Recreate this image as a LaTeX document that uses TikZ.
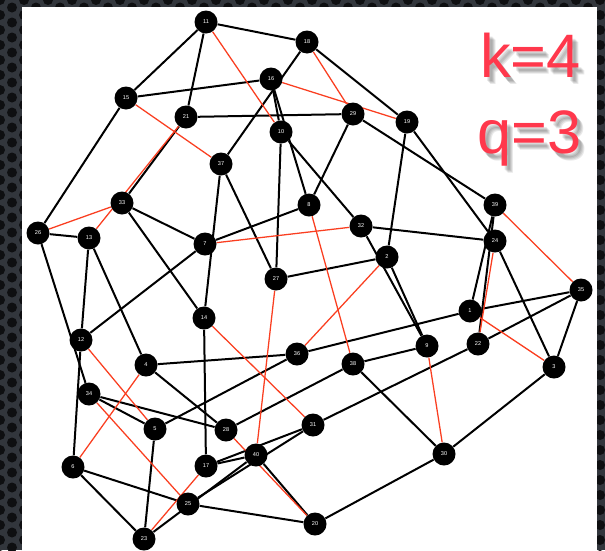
\documentclass[tikz,border=0pt]{standalone}
\usepackage{fontspec}
\setsansfont{Liberation Sans}
\pgfdeclarelayer{back}
\pgfdeclarelayer{wires}
\pgfsetlayers{back,wires,main}
\definecolor{edgered}{RGB}{250,62,32}
\definecolor{labelred}{RGB}{255,56,76}
\definecolor{framebg}{RGB}{50,54,60}
\definecolor{framedot}{RGB}{14,15,17}
\tikzset{
  vtx/.style={circle, fill=black, minimum size=17.25pt, inner sep=0pt,
    text=white, font=\sffamily\fontsize{4.2}{5}\selectfont},
  blk/.style={draw=black, line width=1.5pt},
  rd/.style={draw=edgered, line width=0.95pt},
  big/.style={font=\sffamily\fontsize{46}{46}\selectfont, text=labelred,
    anchor=base west, inner sep=0pt},
  bigshade/.style={big, text=black, opacity=0.09},
}
\begin{document}
\begin{tikzpicture}[x=0.75pt,y=-0.75pt]
\useasboundingbox (0,0) rectangle (605,550);

% textured frame and white canvas
\begin{pgfonlayer}{back}
  \fill[framebg] (0,0) rectangle (605,550);
  \foreach \i in {0,...,50}{
    \foreach \j in {0,...,37}{
      \pgfmathsetmacro{\yy}{\j*15+mod(\i,2)*7.5}
      \fill[framedot] (\i*12,\yy) circle (5);
    }
  }
  \fill[white] (22,7) rectangle (597,565);
\end{pgfonlayer}

% vertices
\foreach \n/\x/\y in {
  1/470/311, 2/387/257, 3/554/367, 4/146/365, 5/155/429,
  6/73/467, 7/205/244, 8/309/205, 9/427/346, 10/281/132,
  11/206/22, 12/81/340, 13/89/238, 14/204/318, 15/126/98,
  16/271/79, 17/206/466, 18/307/42, 19/407/122, 20/315/524,
  21/186/117, 22/478/344, 23/144/539, 24/495/241, 25/188/504,
  26/38/233, 27/276/279, 28/226/430, 29/353/114, 30/444/454,
  31/313/425, 32/361/226, 33/122/203, 34/89/394, 35/581/290,
  36/297/354, 37/221/164, 38/353/364, 39/495/205, 40/256/455}
  \node[vtx] (n\n) at (\x,\y) {\n};

% edges
\begin{pgfonlayer}{wires}
  \foreach \a/\b in {
    11/18, 11/15, 11/21, 18/19, 18/37, 16/15, 16/10, 16/8,
    15/26, 21/29, 21/33, 10/27, 10/32, 29/39, 29/8, 19/24,
    19/2, 37/14, 37/27, 8/7, 33/7, 33/14, 26/13, 26/34,
    13/12, 13/4, 7/12, 14/17, 32/24, 32/9, 12/6, 34/5,
    34/28, 4/36, 4/28, 5/36, 5/23, 6/25, 6/23, 28/38,
    36/1, 1/35, 39/1, 39/22, 24/3, 22/35, 22/31, 35/3,
    3/30, 2/27, 2/9, 9/38, 38/30, 40/20, 17/40, 17/31,
    23/40, 25/31, 25/20, 20/30}
    \draw[blk] (n\a) -- (n\b);
  \foreach \a/\b in {
    11/10, 18/29, 16/19, 15/37, 21/13, 8/38, 33/26, 7/32,
    14/31, 12/5, 34/25, 4/6, 28/20, 36/2, 1/3, 39/35,
    24/22, 9/30, 27/40, 17/23}
    \draw[rd] (n\a) -- (n\b);
\end{pgfonlayer}

% parameter labels with a soft shadow
\foreach \dx/\dy [count=\s] in {3/4, 4/5, 5/6, 6/7}{
  \node[bigshade] (kshade\s) at (480+\dx,77+\dy) {k=4};
  \node[bigshade] (qshade\s) at (477+\dx,153+\dy) {q=3};
}
\node[big] (kval) at (480,77) {k=4};
\node[big] (qval) at (477,153) {q=3};
\end{tikzpicture}
\end{document}
